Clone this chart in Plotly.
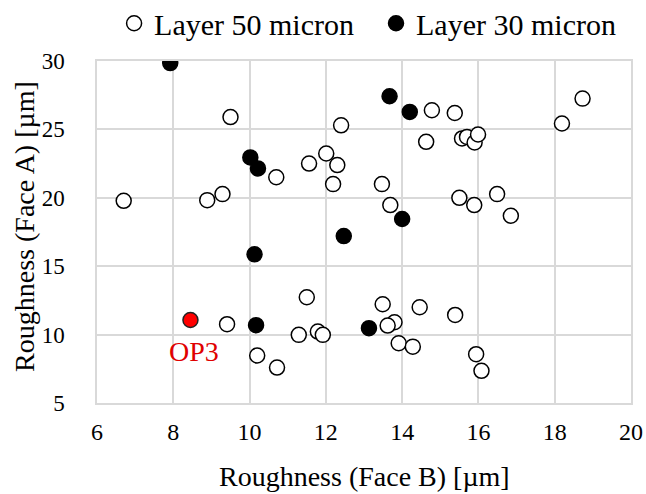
import plotly.graph_objects as go

# Layer 50 micron (open circles)
l50_x = [9.50, 12.40, 10.70, 11.56, 12.01, 12.30, 12.19, 6.70, 8.89, 9.29,
         14.78, 15.38, 14.63, 15.57, 15.70, 15.90, 15.99, 18.19, 18.73,
         13.47, 13.69, 15.50, 15.89, 16.49, 16.85,
         11.50, 9.41, 11.29, 11.79, 11.92, 10.20, 10.72,
         13.49, 14.46, 15.39, 13.80, 13.62, 13.91, 14.28, 15.94, 16.08]
l50_y = [25.9, 25.3, 21.5, 22.5, 23.24, 22.39, 21.0, 19.78, 19.83, 20.27,
         26.4, 26.2, 24.09, 24.34, 24.45, 24.04, 24.63, 25.43, 27.25,
         21.0, 19.47, 20.0, 19.47, 20.27, 18.69,
         12.73, 10.76, 9.98, 10.22, 9.98, 8.47, 7.59,
         12.22, 12.0, 11.44, 10.9, 10.66, 9.37, 9.12, 8.57, 7.35]

# Layer 30 micron (filled circles)
l30_x = [7.92, 10.02, 10.22, 12.47, 13.67, 14.20, 14.00, 10.13, 10.17, 13.13]
l30_y = [29.85, 22.95, 22.15, 17.2, 27.42, 26.28, 18.45, 15.87, 10.69, 10.47]

# Highlighted point
op3_x = [8.45]
op3_y = [11.07]
op3_label = "OP3"

x_ticks = [6, 8, 10, 12, 14, 16, 18, 20]
y_ticks = [5, 10, 15, 20, 25, 30]

FONT = "Liberation Serif"
GRID = "#d9d9d9"

fig = go.Figure()
fig.add_trace(go.Scatter(
    x=l50_x, y=l50_y, mode="markers", name="Layer 50 micron", legend="legend",
    marker=dict(size=15, color="white", line=dict(color="black", width=1.5)),
))
fig.add_trace(go.Scatter(
    x=l30_x, y=l30_y, mode="markers", name="Layer 30 micron", legend="legend2",
    marker=dict(size=15, color="black", line=dict(color="black", width=1.5)),
))
fig.add_trace(go.Scatter(
    x=op3_x, y=op3_y, mode="markers", name=op3_label, showlegend=False,
    marker=dict(size=15, color="#ff0000", line=dict(color="#222222", width=1.5)),
))

fig.add_annotation(x=8.53, y=8.8, text=op3_label, showarrow=False,
                   font=dict(family=FONT, size=28, color="#e00000"),
                   xanchor="center", yanchor="middle")

fig.add_annotation(x=0.5, y=-0.2155, xref="paper", yref="paper",
                   text="Roughness (Face B) [µm]", showarrow=False,
                   font=dict(family=FONT, size=28, color="black"),
                   xanchor="center", yanchor="middle")
fig.add_annotation(x=-0.1348, y=0.515, xref="paper", yref="paper",
                   text="Roughness (Face A) [µm]", showarrow=False, textangle=-90,
                   font=dict(family=FONT, size=28, color="black"),
                   xanchor="center", yanchor="middle")

fig.update_xaxes(range=[6, 20], tickvals=x_ticks, showgrid=True, gridcolor=GRID,
                 gridwidth=1.5, showline=True, linecolor=GRID, linewidth=1.5,
                 mirror=True, zeroline=False, ticks="", ticklabelstandoff=6,
                 automargin=False,
                 tickfont=dict(family=FONT, size=24, color="black"))
fig.update_yaxes(range=[5, 30], tickvals=y_ticks, showgrid=True, gridcolor=GRID,
                 gridwidth=1.5, showline=True, linecolor=GRID, linewidth=1.5,
                 mirror=True, zeroline=False, ticks="", ticklabelstandoff=26,
                 automargin=False,
                 tickfont=dict(family=FONT, size=23, color="black"))

leg_common = dict(orientation="h", yanchor="middle", xanchor="left",
                  xref="paper", yref="container",
                  font=dict(family=FONT, size=30, color="black"),
                  itemsizing="trace", bgcolor="rgba(0,0,0,0)", itemwidth=30)

fig.update_layout(
    width=646, height=494, autosize=False,
    margin=dict(l=97, r=15, t=61, b=91, pad=0),
    plot_bgcolor="white", paper_bgcolor="white",
    showlegend=True,
    legend=dict(x=0.032, y=0.953, **leg_common),
    legend2=dict(x=0.5225, y=0.953, **leg_common),
)

fig.write_html("out.html")
